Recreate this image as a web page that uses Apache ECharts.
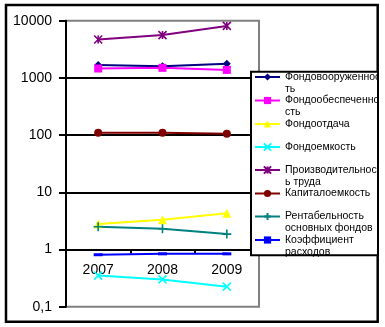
<!DOCTYPE html>
<html>
<head>
<meta charset="utf-8">
<script src="https://cdn.jsdelivr.net/npm/echarts@6/dist/echarts.min.js"></script>
<style>
  html, body { margin: 0; padding: 0; background: #fff; }
  #chart { width: 385px; height: 327px; }
</style>
</head>
<body>
<div id="chart"></div>
<script>
// Years on the category axis
const years = ['2007', '2008', '2009'];

// Indicator values per year
const fondovooruzhennost = [1680, 1600, 1760];
const fondoobespechennost = [1460, 1500, 1380];
const fondootdacha = [2.8, 3.3, 4.3];
const fondoemkost = [0.35, 0.30, 0.224];
const proizvoditelnost = [4700, 5600, 8100];
const kapitaloemkost = [110, 110, 106];
const rentabelnost = [2.5, 2.3, 1.86];
const koefRashodov = [0.81, 0.84, 0.84];

// Series names and how they wrap inside the legend box
const seriesNames = [
  'Фондовооруженность', 'Фондообеспеченность', 'Фондоотдача', 'Фондоемкость',
  'Производительность труда', 'Капиталоемкость', 'Рентабельность основных фондов',
  'Коэффициент расходов'
];
const legendLines = [
  ['Фондовооруженнос', 'ть'],
  ['Фондообеспеченно', 'сть'],
  ['Фондоотдача'],
  ['Фондоемкость'],
  ['Производительност', 'ь труда'],
  ['Капиталоемкость'],
  ['Рентабельность', 'основных фондов'],
  ['Коэффициент', 'расходов']
];

// Value-axis tick labels (decimal comma)
const tickLabels = { '0.1': '0,1', '1': '1', '10': '10', '100': '100', '1000': '1000', '10000': '10000' };

const values = [fondovooruzhennost, fondoobespechennost, fondootdacha, fondoemkost,
  proizvoditelnost, kapitaloemkost, rentabelnost, koefRashodov];

const colors = ['#000080', '#FF00FF', '#FFFF00', '#00FFFF', '#800080', '#800000', '#008080', '#0000FF'];
const symbols = [
  'diamond', 'rect', 'triangle',
  'path://M0,0L10,10M10,0L0,10',
  'path://M0,0L10,10M10,0L0,10M5,0L5,10',
  'circle',
  'path://M5,0L5,10M0,5L10,5',
  'rect'
];
const symbolSizes = [8, 8, 9, 8, 8, 8, 9, [9, 3]];
const strokeMarkers = [false, false, false, true, true, false, true, false];

const FONT = 'Liberation Sans, Arial, sans-serif';
const LH = 12;

const series = values.map((vals, i) => ({
  name: seriesNames[i],
  type: 'line',
  xAxisIndex: 0,
  yAxisIndex: 0,
  data: vals,
  symbol: symbols[i],
  symbolSize: symbolSizes[i],
  showAllSymbol: true,
  lineStyle: { color: colors[i], width: 2 },
  itemStyle: strokeMarkers[i]
    ? { color: colors[i], borderColor: colors[i], borderWidth: 1.6 }
    : { color: colors[i], borderWidth: 0 },
  emphasis: { disabled: true },
  animation: false
}));

// One legend block per series so each marker sits on the first text line
const legendFirstLine = [77, 100.5, 124, 147, 170, 193.5, 216.5, 240];
const legends = seriesNames.map((name, i) => {
  const lines = legendLines[i];
  const twoLine = lines.length > 1;
  const block = twoLine ? 3 : 1;
  return {
    data: [name],
    left: 254,
    top: legendFirstLine[i] - block * LH / 2,
    orient: 'vertical',
    padding: 0,
    itemWidth: 25,
    itemHeight: 9,
    selectedMode: false,
    formatter: () => (twoLine ? '\n' + lines[0] + '\n' + lines[1] : lines[0]),
    textStyle: { fontFamily: FONT, fontSize: 10.5, color: '#000', lineHeight: LH },
    z: 6
  };
});

const chart = echarts.init(document.getElementById('chart'), null, { renderer: 'canvas' });
chart.setOption({
  animation: false,
  backgroundColor: '#ffffff',
  grid: [
    { left: 66, top: 20.7, right: 126, bottom: 20.3, show: true, borderColor: '#808080', borderWidth: 2, backgroundColor: 'transparent' },
    { left: 66, top: 20.7, right: 126, bottom: 77.3, show: false }
  ],
  xAxis: [
    { type: 'category', gridIndex: 0, data: years, boundaryGap: true, show: false },
    {
      type: 'category', gridIndex: 1, data: years, boundaryGap: true,
      axisLine: { show: true, lineStyle: { color: '#000', width: 2 } },
      axisTick: { show: true, length: 4, lineStyle: { color: '#000', width: 2 } },
      axisLabel: { fontFamily: FONT, fontSize: 14, color: '#000', margin: 13 },
      splitLine: { show: false }
    }
  ],
  yAxis: [
    {
      type: 'log', gridIndex: 0, logBase: 10, min: 0.1, max: 10000, interval: 1,
      axisLine: { show: true, lineStyle: { color: '#000', width: 2 } },
      axisTick: { show: true, length: 7, lineStyle: { color: '#000', width: 2 } },
      axisLabel: {
        fontFamily: FONT, fontSize: 14, color: '#000', margin: 14,
        formatter: v => tickLabels[String(+v.toPrecision(6))] || String(v)
      },
      splitLine: { show: true, showMinLine: false, showMaxLine: false, lineStyle: { color: '#000', width: 2 } },
      minorTick: { show: false }
    },
    { type: 'value', gridIndex: 1, show: false, min: 0, max: 1 }
  ],
  legend: legends,
  graphic: [
    // outer chart frame
    { type: 'rect', z: 0, shape: { x: 6, y: 5, width: 371.7, height: 316.7 },
      style: { fill: 'none', stroke: '#000', lineWidth: 2.5 } },
    // legend panel background
    { type: 'rect', z: 5, shape: { x: 251, y: 71.7, width: 127, height: 183.5 },
      style: { fill: '#fff', stroke: null } },
    // margin strip right of the frame, so long legend lines end at the border
    { type: 'rect', z: 7, shape: { x: 379, y: 66, width: 6, height: 195 },
      style: { fill: '#fff', stroke: null } },
    // legend panel border
    { type: 'rect', z: 8, shape: { x: 251, y: 71.7, width: 127, height: 183.5 },
      style: { fill: 'none', stroke: '#000', lineWidth: 2 } }
  ],
  series: series
});
</script>
</body>
</html>
